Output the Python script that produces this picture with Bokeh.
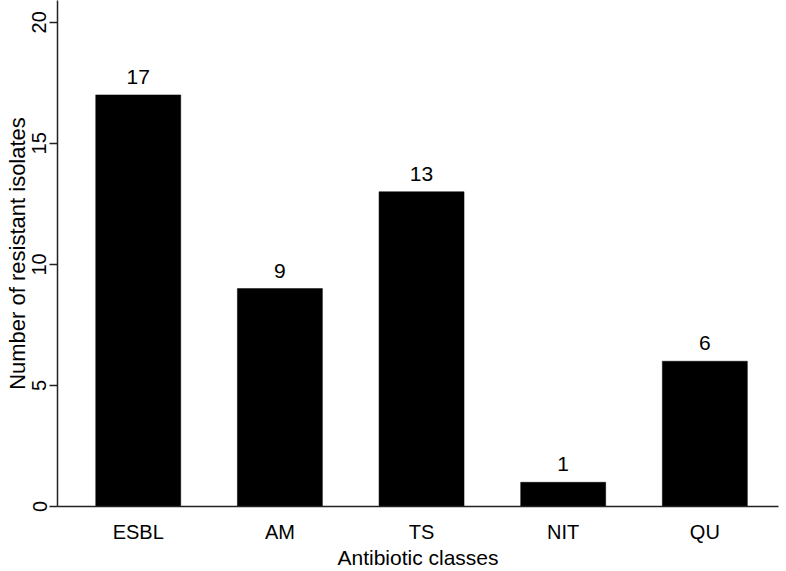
from bokeh.plotting import figure
from bokeh.models import Range1d, FixedTicker, ColumnDataSource, LabelSet
from bokeh.core.properties import value
from bokeh.embed import file_html
from bokeh.resources import INLINE

categories = ["ESBL", "AM", "TS", "NIT", "QU"]
counts = [17, 9, 13, 1, 6]
y_ticks = [0, 5, 10, 15, 20]

positions = list(range(1, len(categories) + 1))
source = ColumnDataSource(dict(x=positions, top=counts, label=[str(c) for c in counts]))

FONT = "Liberation Sans"

p = figure(width=786, height=571, output_backend="svg", toolbar_location=None,
           x_range=Range1d(0.43, 5.52), y_range=Range1d(0, 20.9),
           min_border_left=57, min_border_right=8, min_border_top=0, min_border_bottom=65)

p.vbar(x="x", top="top", width=0.6, bottom=0, source=source,
       fill_color="black", line_color="black", line_width=0.5)

labels = LabelSet(x="x", y="top", text="label", source=source, y_offset=11,
                  text_align="center", text_baseline="alphabetic",
                  text_font=value(FONT), text_font_size=value("21px"), text_color="black")
p.add_layout(labels)

p.outline_line_color = None
p.xgrid.grid_line_color = None
p.ygrid.grid_line_color = None
p.background_fill_color = "white"
p.border_fill_color = "white"

# x axis
p.xaxis.ticker = FixedTicker(ticks=positions)
p.xaxis.major_label_overrides = {pos: cat for pos, cat in zip(positions, categories)}
p.xaxis.major_tick_line_color = None
p.xaxis.minor_tick_line_color = None
p.xaxis.major_tick_out = 0
p.xaxis.major_tick_in = 0
p.xaxis.axis_line_color = "#222222"
p.xaxis.axis_line_width = 1.5
p.xaxis.major_label_text_font = FONT
p.xaxis.major_label_text_font_size = "20px"
p.xaxis.major_label_text_color = "black"
p.xaxis.major_label_standoff = 14
p.xaxis.axis_label = "Antibiotic classes"
p.xaxis.axis_label_text_font = FONT
p.xaxis.axis_label_text_font_size = "21px"
p.xaxis.axis_label_text_font_style = "normal"
p.xaxis.axis_label_text_color = "black"
p.xaxis.axis_label_standoff = 0

# y axis
p.yaxis.ticker = FixedTicker(ticks=y_ticks)
p.yaxis.minor_tick_line_color = None
p.yaxis.major_tick_out = 8
p.yaxis.major_tick_in = 0
p.yaxis.major_tick_line_color = "#222222"
p.yaxis.major_tick_line_width = 1.5
p.yaxis.axis_line_color = "#222222"
p.yaxis.axis_line_width = 1.5
p.yaxis.major_label_orientation = "vertical"
p.yaxis.major_label_text_font = FONT
p.yaxis.major_label_text_font_size = "20px"
p.yaxis.major_label_text_color = "black"
p.yaxis.major_label_standoff = 3
p.yaxis.axis_label = "Number of resistant isolates"
p.yaxis.axis_label_text_font = FONT
p.yaxis.axis_label_text_font_size = "22px"
p.yaxis.axis_label_text_font_style = "normal"
p.yaxis.axis_label_text_color = "black"
p.yaxis.axis_label_standoff = 0

open("out.html", "w").write(file_html(p, INLINE))
